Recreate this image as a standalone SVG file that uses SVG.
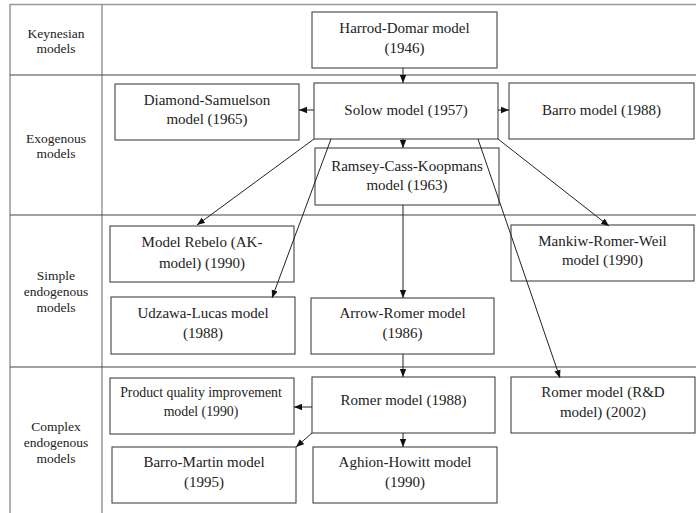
<svg xmlns="http://www.w3.org/2000/svg" width="696" height="513" viewBox="0 0 696 513">
<style>
.frame{stroke:#8a8a8a;stroke-width:1.3;fill:none}
.row{stroke:#444;stroke-width:1.1;fill:none}
.box{fill:none;stroke:#444;stroke-width:1.1}
.t{font-family:'Liberation Serif','Times New Roman','DejaVu Serif',serif;font-size:15px;fill:#222;text-anchor:middle}
.s{font-size:13.8px}
.lab{font-family:'Liberation Serif','Times New Roman','DejaVu Serif',serif;font-size:13.5px;fill:#222;text-anchor:middle}
.c{stroke:#222;stroke-width:1;fill:none;marker-end:url(#ah)}
</style>
<defs>
<marker id="ah" viewBox="0 0 8 8" refX="8" refY="4" markerWidth="8" markerHeight="8" markerUnits="userSpaceOnUse" orient="auto">
<path d="M0,0.8 L8,4 L0,7.2 Z" fill="#111"/>
</marker>
</defs>
<g id="table">
<line x1="10" y1="4.5" x2="696" y2="4.5" stroke="#999" stroke-width="1.6"/>
<line class="frame" x1="10" y1="4" x2="10" y2="513"/>
<line class="frame" x1="102" y1="4" x2="102" y2="513"/>
<line class="row" x1="10" y1="75" x2="696" y2="75"/>
<line class="row" x1="10" y1="215" x2="696" y2="215"/>
<line class="row" x1="10" y1="367" x2="696" y2="367"/>
<text class="lab" x="56" y="38">Keynesian</text>
<text class="lab" x="56" y="53">models</text>
<text class="lab" x="56" y="143">Exogenous</text>
<text class="lab" x="56" y="158">models</text>
<text class="lab" x="56" y="280">Simple</text>
<text class="lab" x="56" y="296">endogenous</text>
<text class="lab" x="56" y="312">models</text>
<text class="lab" x="56" y="431">Complex</text>
<text class="lab" x="56" y="447">endogenous</text>
<text class="lab" x="56" y="463">models</text>
</g>
<g id="harrod"><rect class="box" x="312" y="12" width="185" height="56"/><text class="t" x="404.5" y="33">Harrod-Domar model</text><text class="t" x="404.5" y="53">(1946)</text></g>
<g id="solow"><rect class="box" x="314" y="83" width="184" height="56"/><text class="t" x="406" y="115">Solow model (1957)</text></g>
<g id="barro"><rect class="box" x="509" y="83" width="185" height="56"/><text class="t" x="601.5" y="115">Barro model (1988)</text></g>
<g id="diamond"><rect class="box" x="115" y="84" width="184" height="56"/><text class="t" x="207" y="105">Diamond-Samuelson</text><text class="t" x="207" y="124">model (1965)</text></g>
<g id="ramsey"><rect class="box" x="315" y="148" width="184" height="57"/><text class="t" x="407" y="171">Ramsey-Cass-Koopmans</text><text class="t" x="407" y="190">model (1963)</text></g>
<g id="rebelo"><rect class="box" x="110" y="226" width="184" height="56"/><text class="t" x="202" y="247">Model Rebelo (AK-</text><text class="t" x="202" y="268">model) (1990)</text></g>
<g id="mankiw"><rect class="box" x="511" y="225" width="183" height="56"/><text class="t" x="602.5" y="246">Mankiw-Romer-Weil</text><text class="t" x="602.5" y="265">model (1990)</text></g>
<g id="udzawa"><rect class="box" x="111" y="297" width="184" height="57"/><text class="t" x="203" y="318">Udzawa-Lucas model</text><text class="t" x="203" y="338">(1988)</text></g>
<g id="arrowromer"><rect class="box" x="311" y="298" width="183" height="56"/><text class="t" x="402.5" y="318">Arrow-Romer model</text><text class="t" x="402.5" y="338">(1986)</text></g>
<g id="romer"><rect class="box" x="312" y="377" width="183" height="56"/><text class="t" x="403.5" y="405">Romer model (1988)</text></g>
<g id="romerrd"><rect class="box" x="511" y="377" width="184" height="56"/><text class="t" x="603" y="397">Romer model (R&amp;D</text><text class="t" x="603" y="417">model) (2002)</text></g>
<g id="product"><rect class="box" x="110" y="378" width="184" height="56"/><text class="t s" x="201" y="397">Product quality improvement</text><text class="t s" x="201" y="416">model (1990)</text></g>
<g id="barromartin"><rect class="box" x="112" y="447" width="184" height="56"/><text class="t" x="204" y="467">Barro-Martin model</text><text class="t" x="204" y="487">(1995)</text></g>
<g id="aghion"><rect class="box" x="313" y="447" width="184" height="56"/><text class="t" x="405" y="467">Aghion-Howitt model</text><text class="t" x="405" y="487">(1990)</text></g>
<g id="connectors">
<line class="c" x1="403" y1="68" x2="403" y2="83"/>
<line class="c" x1="403" y1="139" x2="403" y2="148"/>
<line class="c" x1="314" y1="110" x2="299" y2="110"/>
<line class="c" x1="498" y1="110" x2="509" y2="110"/>
<line class="c" x1="314" y1="139" x2="197" y2="225"/>
<line class="c" x1="331" y1="139" x2="272" y2="298"/>
<line class="c" x1="478" y1="139" x2="560" y2="378"/>
<line class="c" x1="498" y1="139" x2="609" y2="226"/>
<line class="c" x1="403" y1="205" x2="403" y2="298"/>
<line class="c" x1="403" y1="354" x2="403" y2="377"/>
<line class="c" x1="312" y1="407" x2="294" y2="407"/>
<line class="c" x1="312" y1="433" x2="296" y2="447"/>
<line class="c" x1="403" y1="433" x2="403" y2="447"/>
</g>
</svg>
